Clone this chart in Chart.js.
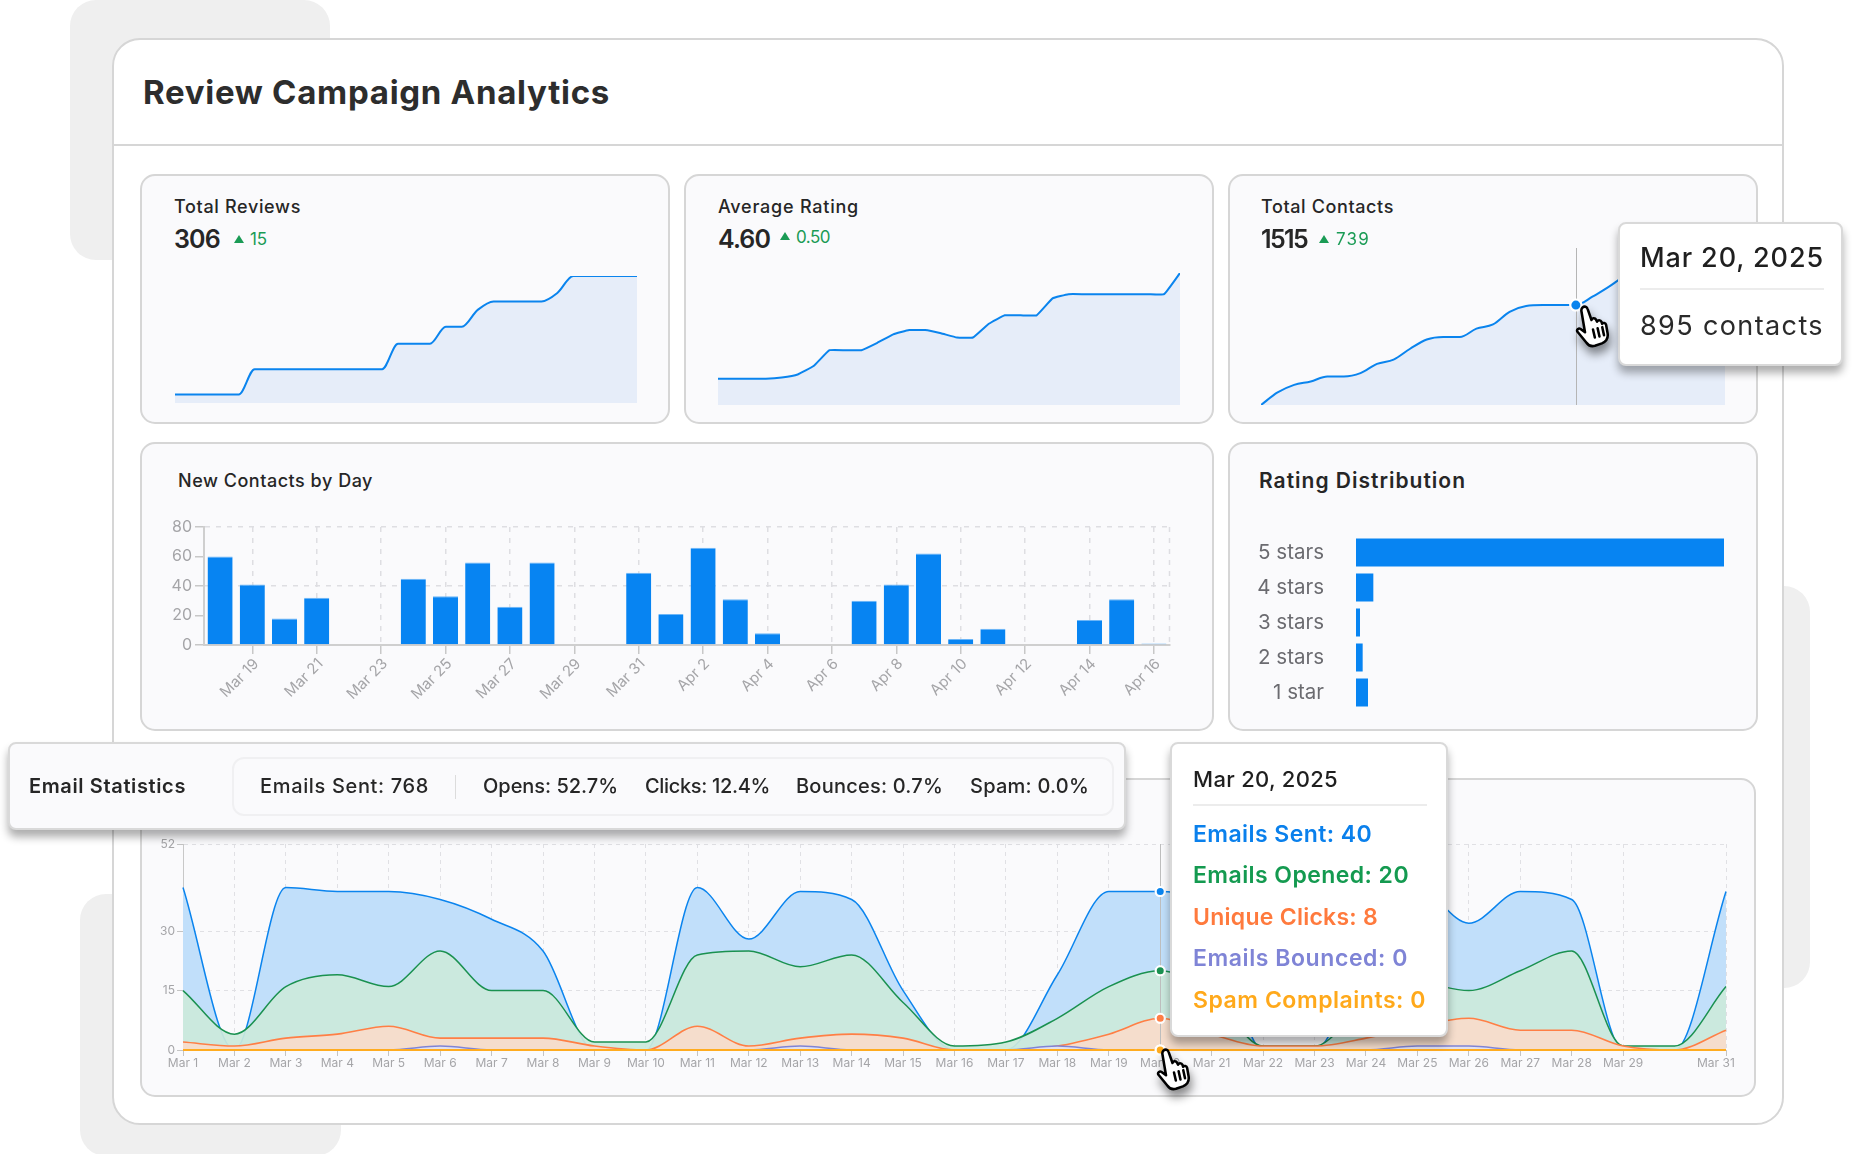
<!DOCTYPE html>
<html><head><meta charset="utf-8">
<script src="https://cdn.jsdelivr.net/npm/chart.js@4"></script>
<style>
html,body{margin:0;padding:0;background:#fff;width:1852px;height:1154px;overflow:hidden;font-family:Inter,"Noto Sans",sans-serif;color:#222}
.box{position:absolute;box-sizing:border-box}
.bg{background:#efefef;border-radius:26px}
.card{background:#fafafc;border:2px solid #d6d6d6;border-radius:15px}
.pop{background:#fff;border:2px solid #d9d9d9;border-radius:8px;box-shadow:0 7px 9px rgba(0,0,0,.32)}
.t{position:absolute;white-space:nowrap;line-height:1;transform:translateY(-50%)}
canvas{position:absolute}
.hand{position:absolute;filter:drop-shadow(2px 7px 5px rgba(0,0,0,.45))}
</style></head><body>
<div class="box bg" style="left:70px;top:0;width:260px;height:260px"></div>
<div class="box bg" style="left:1500px;top:586px;width:310px;height:402px"></div>
<div class="box bg" style="left:80px;top:894px;width:261px;height:262px"></div>
<div class="box" style="left:112px;top:38px;width:1672px;height:1087px;background:#fff;border:2px solid #d6d6d6;border-radius:28px"></div>
<div class="box" style="left:113px;top:144px;width:1670px;height:2px;background:#d6d6d6"></div>
<div class="box card" style="left:140px;top:174px;width:530px;height:250px"></div>
<div class="box card" style="left:684px;top:174px;width:530px;height:250px"></div>
<div class="box card" style="left:1228px;top:174px;width:530px;height:250px"></div>
<div class="box card" style="left:140px;top:442px;width:1074px;height:289px"></div>
<div class="box card" style="left:1228px;top:442px;width:530px;height:289px"></div>
<div class="box card" style="left:140px;top:778px;width:1616px;height:319px"></div>
<canvas id="c1" style="left:175px;top:276px" width="462" height="127"></canvas>
<canvas id="c2" style="left:718px;top:273px" width="462" height="132"></canvas>
<canvas id="c3" style="left:1261px;top:248px" width="464" height="157"></canvas>
<canvas id="c4" style="left:150px;top:520px" width="1040" height="205"></canvas>
<canvas id="c5" style="left:1240px;top:535px" width="500" height="175"></canvas>
<canvas id="c6" style="left:150px;top:830px" width="1600" height="260"></canvas>
<div class="box pop" style="left:8px;top:742px;width:1118px;height:88px;background:#fafafc"></div>
<div class="box" style="left:232px;top:757px;width:882px;height:59px;border:2px solid #f0f0f2;border-radius:12px"></div>
<div class="box" style="left:455px;top:775px;width:1px;height:24px;background:#dcdcdc"></div>
<div class="box pop" style="left:1170px;top:742px;width:278px;height:295px"></div>
<div class="box" style="left:1193px;top:804px;width:234px;height:2px;background:#ececec"></div>
<div class="box pop" style="left:1618px;top:222px;width:225px;height:144px"></div>
<div class="box" style="left:1640px;top:288px;width:184px;height:2px;background:#ececec"></div>
<svg class="hand" style="left:1572px;top:304px" width="42" height="44" viewBox="0 0 34 38"><g fill="#fff" stroke="#000" stroke-width="2.2" stroke-linejoin="round" stroke-linecap="round"><path d="M8 3c1.6-1.4 3.8-.6 4.4 1.4l3.3 9.4c.3-1.8 3-2.2 3.9-.3l.9 1.7c.5-1.6 3.1-1.6 3.8.2l.6 1.6c.9-1.1 3-.8 3.4 1l1.3 7.2c.7 4.2-1.5 7.3-4.9 8.8l-6 2.1c-3.1.8-5.8-.2-7.5-2.8L3.6 24c-1.1-1.8.9-3.6 2.7-2.4l3.8 2.8L7 6.2C6.8 5 7.2 3.8 8 3z"/><path d="M17 22l1.6 7M21 21l1.6 7M25 20l1.5 7" fill="none"/></g></svg>
<svg class="hand" style="left:1153px;top:1047px" width="42" height="44" viewBox="0 0 34 38"><g fill="#fff" stroke="#000" stroke-width="2.2" stroke-linejoin="round" stroke-linecap="round"><path d="M8 3c1.6-1.4 3.8-.6 4.4 1.4l3.3 9.4c.3-1.8 3-2.2 3.9-.3l.9 1.7c.5-1.6 3.1-1.6 3.8.2l.6 1.6c.9-1.1 3-.8 3.4 1l1.3 7.2c.7 4.2-1.5 7.3-4.9 8.8l-6 2.1c-3.1.8-5.8-.2-7.5-2.8L3.6 24c-1.1-1.8.9-3.6 2.7-2.4l3.8 2.8L7 6.2C6.8 5 7.2 3.8 8 3z"/><path d="M17 22l1.6 7M21 21l1.6 7M25 20l1.5 7" fill="none"/></g></svg>
<script>
// ---------- data ----------
const reviewsTotal=[292,292,292,292,292,295,295,295,295,295,295,295,295,295,298,298,298,300,300,302,303,303,303,303,304,306,306,306,306,306];
const ratingAverage=[4.10,4.10,4.10,4.10,4.106,4.12,4.16,4.235,4.235,4.235,4.27,4.31,4.33,4.33,4.315,4.295,4.295,4.36,4.40,4.40,4.40,4.48,4.50,4.50,4.50,4.50,4.50,4.50,4.50,4.60];
const contactsTotal=[776,791,800,804,810,810,814,825,830,843,854,857,857,867,872,887,894,895,895,895,905,917,929,931,933,933,933,933,933];
const dayLabels=['Mar 18','Mar 19','Mar 20','Mar 21','Mar 22','Mar 23','Mar 24','Mar 25','Mar 26','Mar 27','Mar 28','Mar 29','Mar 30','Mar 31','Apr 1','Apr 2','Apr 3','Apr 4','Apr 5','Apr 6','Apr 7','Apr 8','Apr 9','Apr 10','Apr 11','Apr 12','Apr 13','Apr 14','Apr 15','Apr 16'];
const newContacts=[60,41,18,32,0,0,45,33,56,26,56,0,0,49,21,66,31,8,0,0,30,41,62,4,11,0,0,17,31,1];
const ratingLabels=['5 stars','4 stars','3 stars','2 stars','1 star'];
const ratingCounts=[276,13,3,5,9];
const emailDays=['Mar 1','Mar 2','Mar 3','Mar 4','Mar 5','Mar 6','Mar 7','Mar 8','Mar 9','Mar 10','Mar 11','Mar 12','Mar 13','Mar 14','Mar 15','Mar 16','Mar 17','Mar 18','Mar 19','Mar 20','Mar 21','Mar 22','Mar 23','Mar 24','Mar 25','Mar 26','Mar 27','Mar 28','Mar 29','Mar 30','Mar 31'];
const emailsSent=[41,0,41,40,40,38,33,25,0,0,41,28,40,38,15,0,0,19,40,40,33,0,0,25,41,32,40,38,0,0,40];
const emailsOpened=[15,4,16,19,16,25,15,15,2,2,24,25,21,24,12,1,2,8,16,20,14,1,1,12,17,15,20,25,1,1,16];
const uniqueClicks=[2,1,3,4,6,3,3,3,1,0,6,1,3,4,3,0,0,1,4,8,4,1,1,3,6,8,5,5,1,0,5];
const emailsBounced=[0,0,0,0,0,1,0,0,0,0,0,0,1,0,0,0,0,1,0,0,0,0,0,0,1,1,0,0,0,0,0];
const spamComplaints=[0,0,0,0,0,0,0,0,0,0,0,0,0,0,0,0,0,0,0,0,0,0,0,0,0,0,0,0,0,0,0];
const emailYTicks=[0,15,30,52];
const barYTicks=[0,20,40,60,80];
// ---------- text ----------
const FONT='Inter,"Noto Sans",sans-serif';
function T(s,x,cy,w,size,weight,color){
  const e=document.createElement('span');e.className='t';e.textContent=s;
  e.style.cssText=`left:${x}px;top:${cy}px;font-size:${size}px;font-weight:${weight};color:${color}`;
  document.body.appendChild(e);
  const m=e.getBoundingClientRect().width;
  e.style.letterSpacing=((w-m)/s.length).toFixed(3)+'px';
  return e;
}
const D='#262626',G='#1a9b55';
T('Review Campaign Analytics',143,92,467,33,700,'#2d2d2d');
T('Total Reviews',174,207,127,18,500,D);T('306',174,239,46,25,600,D);T('15',250,239,17,17,400,G);
T('Average Rating',718,207,141,18,500,D);T('4.60',718,239,52,25,600,D);T('0.50',796,237,34,17,400,G);
T('Total Contacts',1261,207,133,18,500,D);T('1515',1261,239,46,25,600,D);T('739',1336,239,34,17,400,G);
T('New Contacts by Day',178,481,195,18,500,D);T('Rating Distribution',1259,480,207,21,600,D);
T('Email Statistics',29,786,157,20,600,D);
T('Emails Sent: 768',260,786,169,20,500,D);T('Opens: 52.7%',483,786,135,20,500,D);T('Clicks: 12.4%',645,786,125,20,500,D);T('Bounces: 0.7%',796,786,147,20,500,D);T('Spam: 0.0%',970,786,119,20,500,D);
T('Mar 20, 2025',1193,779,145,22,500,'#1f1f1f');
T('Emails Sent: 40',1193,834,179,23,600,'#0a80ec');T('Emails Opened: 20',1193,875,216,23,600,'#149a50');T('Unique Clicks: 8',1193,917,185,23,600,'#ff7a3d');T('Emails Bounced: 0',1193,958,215,23,600,'#7f84d6');T('Spam Complaints: 0',1193,1000,233,23,600,'#ffa91b');
T('Mar 20, 2025',1640,257,184,27,500,'#1f1f1f');T('895 contacts',1640,325,184,27,400,'#2a2a2a');
for(const [x,y] of [[239,239],[785,236],[1324,239]]){const a=document.createElement('div');a.className='box';a.style.cssText=`left:${x-5}px;top:${y-4}px;width:0;height:0;border-left:5px solid transparent;border-right:5px solid transparent;border-bottom:8px solid #1a9b55`;document.body.appendChild(a);}
// ---------- charts ----------
Chart.defaults.animation=false;Chart.defaults.responsive=false;Chart.defaults.font.family=FONT;
Chart.defaults.plugins.legend.display=false;Chart.defaults.plugins.tooltip.enabled=false;
const BLUE='#0a84ee';
const cross=(idx,color)=>({id:'cross',afterDatasetsDraw(c){const p=c.getDatasetMeta(0).data[idx];const x=Math.round(p.x)+.5,g=c.ctx;g.save();g.strokeStyle=color;g.lineWidth=1;g.beginPath();g.moveTo(x,c.chartArea.top);g.lineTo(x,c.chartArea.bottom);g.stroke();
  c.data.datasets.forEach((d,i)=>{const m=c.getDatasetMeta(i);m.data[idx].draw(g);});g.restore();}});
function spark(id,data,min,max,mark,straight){
  const o={type:'line',data:{labels:data.map((_,i)=>i),datasets:[{data,borderColor:BLUE,borderWidth:2,backgroundColor:'#e6edf9',fill:'origin',clip:false,
    ...(straight?{tension:.1}:{cubicInterpolationMode:'monotone'}),
    pointRadius:c=>c.dataIndex===mark?5.5:0,pointBackgroundColor:BLUE,pointBorderColor:'#fff',pointBorderWidth:2}]},
    options:{layout:{padding:0},scales:{x:{display:false},y:{display:false,min,max}}},plugins:mark!=null?[cross(mark,'#b5b5b5')]:[]};
  return new Chart(document.getElementById(id),o);
}
spark('c1',reviewsTotal,291,306);
spark('c2',ratingAverage,3.976,4.60,null,true);
spark('c3',contactsTotal,776,963,19);
const hide=[20,60];
new Chart(document.getElementById('c4'),{type:'bar',data:{labels:dayLabels,datasets:[{data:newContacts,backgroundColor:'#0784f2',borderColor:'#6cb6f7',borderWidth:{top:1},barPercentage:.78,categoryPercentage:1}]},
 plugins:[{id:'edge',beforeDatasetsDraw(c){const g=c.ctx,a=c.chartArea;g.save();g.strokeStyle='#dedee2';g.lineWidth=1.5;g.setLineDash([5,6]);g.beginPath();g.moveTo(a.right-.5,a.top);g.lineTo(a.right-.5,a.bottom);g.stroke();g.restore();}}],
 options:{layout:{padding:{left:0,right:20,top:7,bottom:0}},scales:{
  x:{grid:{offset:false,color:'#dedee2',lineWidth:1.5,tickColor:'#c8c8c8',tickBorderDash:[],tickLength:9},border:{color:'#cfcfcf',width:2,dash:[5,6]},afterBuildTicks:s=>{s.ticks=s.ticks.filter(t=>t.value%2===1)},afterFit:s=>{s.height=80;s.paddingLeft=0;s.paddingRight=0},
     ticks:{autoSkip:false,minRotation:45,maxRotation:45,color:'#a5a5a8',font:{size:15},padding:1,labelOffset:4}},
  y:{min:0,max:80,afterBuildTicks:s=>{s.ticks=barYTicks.map(value=>({value}))},afterFit:s=>{s.width=54;s.paddingTop=0;s.paddingBottom=0},
     grid:{color:c=>hide.includes(c.tick&&c.tick.value)?'transparent':'#dedee2',lineWidth:1.5,tickColor:'#c8c8c8',tickBorderDash:[],tickLength:9},border:{color:'#cfcfcf',width:2,dash:[5,6]},
     ticks:{color:'#a5a5a8',font:{size:16},padding:3}}}}});
new Chart(document.getElementById('c5'),{type:'bar',data:{labels:ratingLabels,datasets:[{data:ratingCounts,backgroundColor:'#0784f2',barPercentage:.8,categoryPercentage:1}]},
 options:{indexAxis:'y',layout:{padding:{left:0,right:16,top:0,bottom:0}},scales:{x:{display:false,min:0,max:276},
  y:{afterFit:s=>{s.width=116;s.paddingTop=0;s.paddingBottom=0},grid:{display:false,drawTicks:false},border:{display:false},ticks:{color:'#6b6b70',font:{size:20.5},padding:32}}}}});
const HOVER=19;
function ser(data,line,fill,w,order){return {data,borderColor:line,borderWidth:w,backgroundColor:fill,fill:fill?'origin':false,order,cubicInterpolationMode:'monotone',clip:false,
  pointRadius:c=>c.dataIndex===HOVER?4.5:0,pointBackgroundColor:line,pointBorderColor:'#fff',pointBorderWidth:2};}
const grid6={color:'#e0e0e4',tickBorderDash:[],tickColor:'#c4c4c4',tickLength:6};
new Chart(document.getElementById('c6'),{type:'line',data:{labels:emailDays,datasets:[
  ser(emailsSent,'#0a84ee','#c1dffa',1.5,5),ser(emailsOpened,'#1a9150','rgba(203,233,220,.93)',1.5,4),ser(uniqueClicks,'#ff7f45','#f5ddcc',1.6,3),ser(emailsBounced,'#7f84d6','#e3e2ee',1.6,2),ser(spamComplaints,'#ffac20',null,2,1)]},
 plugins:[cross(HOVER,'#bdbdbd')],
 options:{layout:{padding:{left:0,right:24,top:14,bottom:0}},scales:{
  x:{grid:{...grid6},border:{color:'#c8c8c8',width:1,dash:[4,4]},afterBuildTicks:s=>{s.ticks=s.ticks.filter(t=>t.value!==29)},afterFit:s=>{s.height=40;s.paddingLeft=0;s.paddingRight=0},
     ticks:{autoSkip:false,maxRotation:0,minRotation:0,color:'#a5a5a8',font:{size:12},padding:0,callback(v){const l=this.getLabelForValue(v);return v===30?l+'\u00A0'.repeat(6):l;}}},
  y:{min:0,max:52,afterBuildTicks:s=>{s.ticks=emailYTicks.map(value=>({value}))},afterFit:s=>{s.width=33;s.paddingTop=0;s.paddingBottom=0},grid:{...grid6},border:{color:'#c8c8c8',width:1,dash:[4,4]},
     ticks:{color:'#a5a5a8',font:{size:12},padding:2}}}}});
</script>
</body></html>
